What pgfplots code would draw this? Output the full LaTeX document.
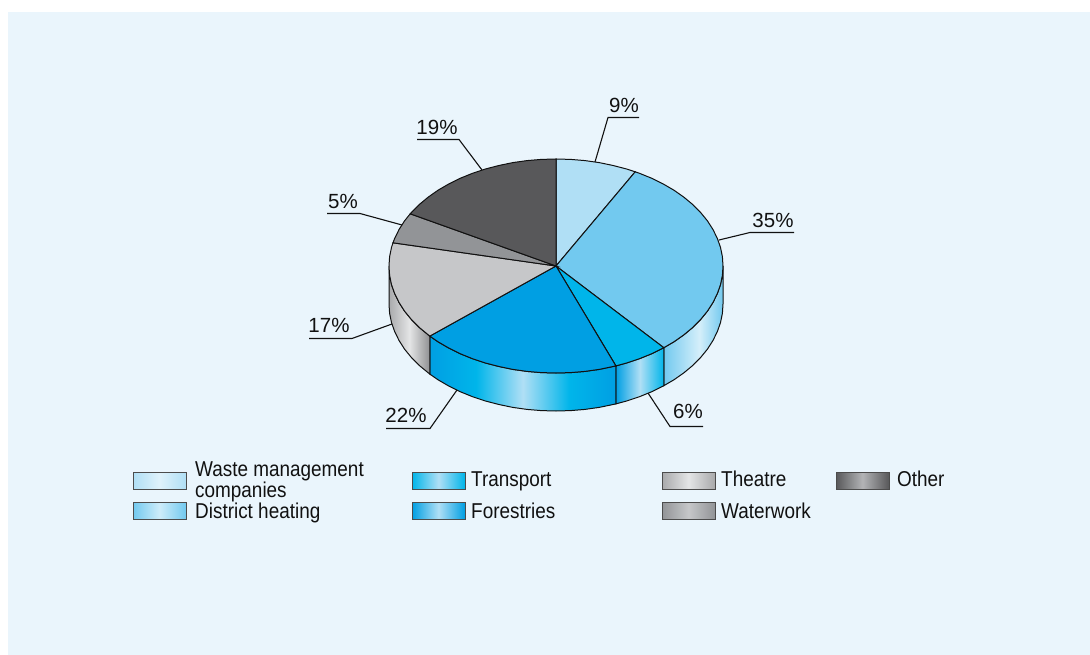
\documentclass[border=0pt]{standalone}
\usepackage{pgfplots}
\pgfplotsset{compat=1.18}
\usepackage{fontspec}
\setmainfont[FakeStretch=0.88]{Liberation Sans}
\newfontfamily\labfont{Liberation Sans}
\definecolor{panel}{HTML}{EAF5FC}
\definecolor{cA}{HTML}{B0DFF5}
\definecolor{cB}{HTML}{72C9EF}
\definecolor{cC}{HTML}{00B5EA}
\definecolor{cD}{HTML}{009FE3}
\definecolor{cE}{HTML}{C6C7C9}
\definecolor{cF}{HTML}{929497}
\definecolor{cG}{HTML}{58585A}
\definecolor{ink}{HTML}{111111}
\pgfdeclarehorizontalshading{sideB}{100bp}{color(0bp)=(cB);color(25bp)=(cB);color(55bp)=(cB!30!white);color(75bp)=(cB);color(100bp)=(cB)}
\pgfdeclarehorizontalshading{sideC}{100bp}{color(0bp)=(cD);color(25bp)=(cD);color(50bp)=(cA);color(75bp)=(cC);color(100bp)=(cC)}
\pgfdeclarehorizontalshading{sideD}{100bp}{color(0bp)=(cD);color(25bp)=(cD);color(37.5bp)=(cC);color(50bp)=(cA);color(62.5bp)=(cC);color(75bp)=(cD);color(100bp)=(cD)}
\definecolor{gE}{HTML}{A9AAAC}
\definecolor{gL}{HTML}{E4E5E6}
\pgfdeclarehorizontalshading{sideE}{100bp}{color(0bp)=(gE);color(25bp)=(gE);color(50bp)=(gL);color(75bp)=(gE!85!black);color(100bp)=(gE)}
\pgfdeclarehorizontalshading{swA}{100bp}{color(0bp)=(cA);color(25bp)=(cA);color(50bp)=(cA!40!white);color(75bp)=(cA);color(100bp)=(cA)}
\pgfdeclarehorizontalshading{swB}{100bp}{color(0bp)=(cB);color(25bp)=(cB);color(50bp)=(cB!35!white);color(75bp)=(cB);color(100bp)=(cB)}
\pgfdeclarehorizontalshading{swC}{100bp}{color(0bp)=(cC);color(25bp)=(cC);color(50bp)=(cA);color(75bp)=(cC);color(100bp)=(cC)}
\pgfdeclarehorizontalshading{swD}{100bp}{color(0bp)=(cD);color(25bp)=(cD);color(50bp)=(cA);color(75bp)=(cD);color(100bp)=(cD)}
\pgfdeclarehorizontalshading{swE}{100bp}{color(0bp)=(cE!85!black);color(25bp)=(cE!85!black);color(50bp)=(gL);color(75bp)=(cE!85!black);color(100bp)=(cE)}
\pgfdeclarehorizontalshading{swF}{100bp}{color(0bp)=(cF);color(25bp)=(cF);color(50bp)=(cE);color(75bp)=(cF);color(100bp)=(cF)}
\pgfdeclarehorizontalshading{swG}{100bp}{color(0bp)=(cG);color(25bp)=(cG);color(50bp)=(cF!70!white);color(75bp)=(cG);color(100bp)=(cG)}
\tikzset{lab/.style={font=\labfont\fontsize{20.5}{22}\selectfont,text=ink,inner sep=0pt,anchor=center},
leg/.style={font=\fontsize{21.5}{23}\selectfont,text=ink,inner sep=0pt,anchor=base west}}
\begin{document}
\begin{tikzpicture}
\begin{axis}[scale only axis,width=1090pt,height=655pt,xmin=0,xmax=1090,ymin=0,ymax=655,y dir=reverse,axis lines=none,clip=false]
% page and panel
\addplot[fill=white,draw=none] coordinates {(0,0) (1090,0) (1090,655) (0,655)} --cycle;
\addplot[fill=panel,draw=none] coordinates {(8,12) (1090,12) (1090,655) (8,655)} --cycle;
% side walls
\addplot[shading=sideB,draw=ink,line width=1pt] coordinates {(723,266) (722.4,275.3) (720.5,284.6) (717.3,293.7) (712.9,302.6) (707.4,311.2) (700.6,319.5) (692.8,327.4) (683.9,334.8) (674.1,341.7) (663.8,347.7) (663.8,385.7) (674.1,379.7) (683.9,372.8) (692.8,365.4) (700.6,357.5) (707.4,349.2) (712.9,340.6) (717.3,331.7) (720.5,322.6) (722.4,313.3) (723,304)} --cycle;
\addplot[shading=sideC,draw=ink,line width=1pt] coordinates {(663.8,347.7) (651.8,353.7) (639.5,358.7) (626.6,363.0) (615.9,365.9) (615.9,403.9) (626.6,401.0) (639.5,396.7) (651.8,391.7) (663.8,385.7)} --cycle;
\addplot[shading=sideD,draw=ink,line width=1pt] coordinates {(615.9,365.9) (613.1,366.5) (599.2,369.4) (585.0,371.4) (570.6,372.6) (556,373) (541.4,372.6) (527.0,371.4) (512.8,369.4) (498.9,366.5) (485.4,363.0) (472.5,358.7) (460.2,353.7) (448.7,348.0) (437.9,341.7) (429.8,336.1) (429.8,374.1) (437.9,379.7) (448.7,386.0) (460.2,391.7) (472.5,396.7) (485.4,401.0) (498.9,404.5) (512.8,407.4) (527.0,409.4) (541.4,410.6) (556,411) (570.6,410.6) (585.0,409.4) (599.2,407.4) (613.1,404.5) (615.9,403.9)} --cycle;
\addplot[shading=sideE,draw=ink,line width=1pt] coordinates {(429.8,336.1) (419.2,327.4) (411.4,319.5) (404.6,311.2) (399.1,302.6) (394.7,293.7) (391.5,284.6) (389.6,275.3) (389,266) (389,304) (389.6,313.3) (391.5,322.6) (394.7,331.7) (399.1,340.6) (404.6,349.2) (411.4,357.5) (419.2,365.4) (429.8,374.1)} --cycle;
% top wedges
\addplot[fill=cA,draw=ink,line width=1pt] coordinates {(556,266) (556,159) (570.6,159.4) (585.0,160.6) (599.2,162.6) (613.1,165.5) (626.6,169.0) (635.2,171.8)} --cycle;
\addplot[fill=cB,draw=ink,line width=1pt] coordinates {(556,266) (635.2,171.8) (639.5,173.3) (651.8,178.3) (663.3,184.0) (674.1,190.3) (683.9,197.2) (692.8,204.6) (700.6,212.5) (707.4,220.8) (712.9,229.4) (717.3,238.3) (720.5,247.4) (722.4,256.7) (723,266) (722.4,275.3) (720.5,284.6) (717.3,293.7) (712.9,302.6) (707.4,311.2) (700.6,319.5) (692.8,327.4) (683.9,334.8) (674.1,341.7) (663.8,347.7)} --cycle;
\addplot[fill=cC,draw=ink,line width=1pt] coordinates {(556,266) (663.8,347.7) (651.8,353.7) (639.5,358.7) (626.6,363.0) (615.9,365.9)} --cycle;
\addplot[fill=cD,draw=ink,line width=1pt] coordinates {(556,266) (615.9,365.9) (613.1,366.5) (599.2,369.4) (585.0,371.4) (570.6,372.6) (556,373) (541.4,372.6) (527.0,371.4) (512.8,369.4) (498.9,366.5) (485.4,363.0) (472.5,358.7) (460.2,353.7) (448.7,348.0) (437.9,341.7) (429.8,336.1)} --cycle;
\addplot[fill=cE,draw=ink,line width=1pt] coordinates {(556,266) (429.8,336.1) (419.2,327.4) (411.4,319.5) (404.6,311.2) (399.1,302.6) (394.7,293.7) (391.5,284.6) (389.6,275.3) (389,266) (389.6,256.7) (391.5,247.4) (393.0,242.8)} --cycle;
\addplot[fill=cF,draw=ink,line width=1pt] coordinates {(556,266) (393.0,242.8) (394.7,238.3) (399.1,229.4) (404.6,220.8) (410.2,213.8)} --cycle;
\addplot[fill=cG,draw=ink,line width=1pt] coordinates {(556,266) (410.2,213.8) (411.4,212.5) (419.2,204.6) (428.1,197.2) (437.9,190.3) (448.7,184.0) (460.2,178.3) (472.5,173.3) (485.4,169.0) (498.9,165.5) (512.8,162.6) (527.0,160.6) (541.4,159.4) (556,159)} --cycle;
% leader lines
\addplot[draw=ink,line width=1.1pt] coordinates {(595,162) (608,117.5) (639,117.5)};
\addplot[draw=ink,line width=1.1pt] coordinates {(719,240) (750,232.5) (794,232.5)};
\addplot[draw=ink,line width=1.1pt] coordinates {(648,393) (670,426.5) (703,426.5)};
\addplot[draw=ink,line width=1.1pt] coordinates {(457,390) (430,428.5) (386,428.5)};
\addplot[draw=ink,line width=1.1pt] coordinates {(392,324) (352,338.5) (309,338.5)};
\addplot[draw=ink,line width=1.1pt] coordinates {(402,225) (360,213.5) (327,213.5)};
\addplot[draw=ink,line width=1.1pt] coordinates {(482,170) (459,139.5) (417,139.5)};
% legend swatches
\addplot[shading=swA,draw=ink!75,line width=1pt] coordinates {(133,472.5) (186,472.5) (186,489) (133,489)} --cycle;
\addplot[shading=swB,draw=ink!75,line width=1pt] coordinates {(133,502.5) (186,502.5) (186,519) (133,519)} --cycle;
\addplot[shading=swC,draw=ink!75,line width=1pt] coordinates {(412,472.5) (465,472.5) (465,489) (412,489)} --cycle;
\addplot[shading=swD,draw=ink!75,line width=1pt] coordinates {(412,502.5) (465,502.5) (465,519) (412,519)} --cycle;
\addplot[shading=swE,draw=ink!75,line width=1pt] coordinates {(662,472.5) (715,472.5) (715,489) (662,489)} --cycle;
\addplot[shading=swF,draw=ink!75,line width=1pt] coordinates {(662,502.5) (715,502.5) (715,519) (662,519)} --cycle;
\addplot[shading=swG,draw=ink!75,line width=1pt] coordinates {(836,472.5) (889,472.5) (889,489) (836,489)} --cycle;
% labels
\node[lab] at (axis cs:624,105.5) {9\%};
\node[lab] at (axis cs:773,220.5) {35\%};
\node[lab] at (axis cs:688,411.5) {6\%};
\node[lab] at (axis cs:406,415.5) {22\%};
\node[lab] at (axis cs:329,325.5) {17\%};
\node[lab] at (axis cs:343,201.5) {5\%};
\node[lab] at (axis cs:437,127.5) {19\%};
\node[leg] at (axis cs:195,476) {Waste management};
\node[leg] at (axis cs:195,497) {companies};
\node[leg] at (axis cs:195,518.5) {District heating};
\node[leg] at (axis cs:471,486.5) {Transport};
\node[leg] at (axis cs:471,518.5) {Forestries};
\node[leg] at (axis cs:721,486.5) {Theatre};
\node[leg] at (axis cs:721,518.5) {Waterwork};
\node[leg] at (axis cs:897,486.5) {Other};
\end{axis}
\end{tikzpicture}
\end{document}
